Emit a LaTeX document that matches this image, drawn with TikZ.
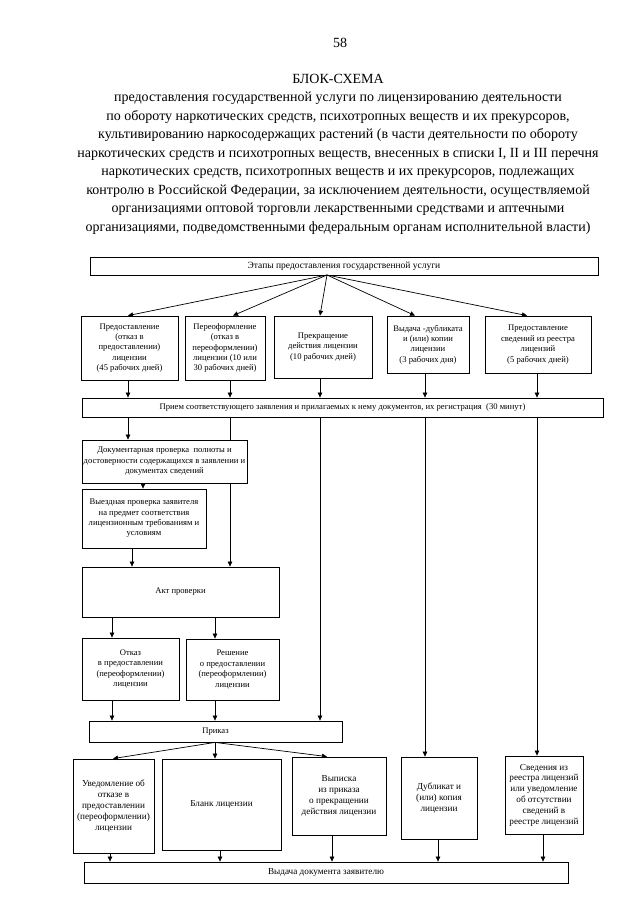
\documentclass[tikz,border=0pt]{standalone}
\usepackage{fontspec}
\setmainfont{Liberation Serif}
\usetikzlibrary{arrows.meta,calc}
\begin{document}
\begin{tikzpicture}[x=1pt,y=-1pt,
  box/.style={draw, line width=0.8pt, fill=white, inner sep=1pt, align=center, font=\fontsize{8.6}{10.4}\selectfont},
  bbox/.style={box, font=\fontsize{9.2}{10.8}\selectfont},
  ttl/.style={font=\fontsize{14}{16}\selectfont, anchor=base, inner sep=0pt},
  arr/.style={-{Triangle[length=5pt,width=4.5pt]}, line width=0.7pt},
  ln/.style={line width=0.7pt}]
\useasboundingbox[fill=white] (0,0) rectangle (640,905);

% title
\node[ttl] (pg) at (340,47) {58};
\node[ttl] (t0) at (338,83) {БЛОК-СХЕМА};
\node[ttl] (t1) at (338,101.5) {предоставления государственной услуги по лицензированию деятельности};
\node[ttl] (t2) at (338,120) {по обороту наркотических средств, психотропных веществ и их прекурсоров,};
\node[ttl] (t3) at (338,138.5) {культивированию наркосодержащих растений (в части деятельности по обороту};
\node[ttl] (t4) at (338,157) {наркотических средств и психотропных веществ, внесенных в списки I, II и III перечня};
\node[ttl] (t5) at (338,175.5) {наркотических средств, психотропных веществ и их прекурсоров, подлежащих};
\node[ttl] (t6) at (338,194) {контролю в Российской Федерации, за исключением деятельности, осуществляемой};
\node[ttl] (t7) at (338,212.5) {организациями оптовой торговли лекарственными средствами и аптечными};
\node[ttl] (t8) at (338,231) {организациями, подведомственными федеральным органам исполнительной власти)};

% column coordinates
\coordinate (fa) at (327,275);
\coordinate (x73) at (113,0);
\coordinate (x110) at (110,0);
\coordinate (x112) at (112,0);
\coordinate (x128) at (128,0);
\coordinate (x132) at (132,0);
\coordinate (x143) at (143,0);
\coordinate (x215) at (215,0);
\coordinate (x220) at (220,0);
\coordinate (x230) at (230,0);
\coordinate (x233) at (233,0);
\coordinate (x320) at (320,0);
\coordinate (x327) at (327,0);
\coordinate (x332) at (332,0);
\coordinate (x415) at (415,0);
\coordinate (x425) at (425,0);
\coordinate (x438) at (438,0);
\coordinate (x527) at (527,0);
\coordinate (x537) at (537,0);
\coordinate (x543) at (543,0);

% boxes
\node[box, minimum width=508pt, minimum height=18pt, font=\fontsize{9.5}{11}\selectfont] (et) at (344,266) {Этапы предоставления государственной услуги};

\node[box, minimum width=97pt, minimum height=64pt] (b1) at (129.5,348) {Предоставление\\(отказ в\\предоставлении)\\лицензии\\(45 рабочих дней)};
\node[box, minimum width=80pt, minimum height=64pt] (b2) at (225,348) {Переоформление\\(отказ в\\переоформлении)\\лицензии (10 или\\30 рабочих дней)};
\node[box, minimum width=98pt, minimum height=62pt] (b3) at (323,347) {Прекращение\\действия лицензии\\(10 рабочих дней)};
\node[box, minimum width=82pt, minimum height=57pt] (b4) at (428,344.5) {Выдача -дубликата\\и (или) копии\\лицензии\\(3 рабочих дня)};
\node[box, minimum width=106pt, minimum height=57pt] (b5) at (538,344.5) {Предоставление\\сведений из реестра\\лицензий\\(5 рабочих дней)};

\node[box, minimum width=521pt, minimum height=19pt] (pr) at (342.5,407.5) {Прием соответствующего заявления и прилагаемых к нему документов, их регистрация\ \ (30 минут)};

\node[box, minimum width=165pt, minimum height=43pt] (dok) at (164.5,461.5) {Документарная проверка\ \ полноты и\\достоверности содержащихся в заявлении и\\документах сведений};
\node[box, minimum width=124pt, minimum height=59pt] (vyez) at (144,518.5) {Выездная проверка заявителя\\на предмет соответствия\\лицензионным требованиям и\\условиям};
\node[box, minimum width=197pt, minimum height=50pt] (akt) at (180.5,592) {Акт проверки};
\node[box, minimum width=97pt, minimum height=62pt] (otk) at (130.5,669) {Отказ\\в предоставлении\\(переоформлении)\\лицензии};
\node[box, minimum width=93pt, minimum height=61pt] (resh) at (232.5,669.5) {Решение\\о предоставлении\\(переоформлении)\\лицензии};
\node[box, minimum width=253pt, minimum height=21pt] (prik) at (215.5,731.5) {Приказ};

\node[bbox, minimum width=81pt, minimum height=94pt] (uv) at (113.5,806) {Уведомление об\\отказе в\\предоставлении\\(переоформлении)\\лицензии};
\node[bbox, minimum width=119pt, minimum height=91pt] (bl) at (221.5,804.5) {Бланк лицензии};
\node[bbox, minimum width=94pt, minimum height=78pt] (vyp) at (339,796) {Выписка\\из приказа\\о прекращении\\действия лицензии};
\node[bbox, minimum width=76pt, minimum height=82pt] (dub) at (439,798) {Дубликат и\\(или) копия\\лицензии};
\node[bbox, minimum width=78pt, minimum height=78pt] (sv) at (544,795) {Сведения из\\реестра лицензий\\или уведомление\\об отсутствии\\сведений в\\реестре лицензий};
\node[bbox, minimum width=484pt, minimum height=21pt] (vyd) at (326,872.5) {Выдача документа заявителю};

% fan from stages
\draw[ln] (et.south -| fa) -- (fa);
\draw[arr] (fa) -- (b1.north -| x128);
\draw[arr] (fa) -- (b2.north -| x233);
\draw[arr] (fa) -- (b3.north -| x320);
\draw[arr] (fa) -- (b4.north -| x415);
\draw[arr] (fa) -- (b5.north -| x527);

% boxes to reception
\draw[arr] (b1.south -| x128) -- (pr.north -| x128);
\draw[arr] (b2.south -| x230) -- (pr.north -| x230);
\draw[arr] (b3.south -| x320) -- (pr.north -| x320);
\draw[arr] (b4.south -| x425) -- (pr.north -| x425);
\draw[arr] (b5.south -| x537) -- (pr.north -| x537);

% from reception
\draw[arr] (pr.south -| x128) -- (dok.north -| x128);
\draw[ln] (pr.south -| x230) -- (dok.north -| x230);
\draw[arr] (dok.south -| x230) -- (akt.north -| x230);
\draw[arr] (pr.south -| x320) -- (prik.north -| x320);
\draw[arr] (pr.south -| x425) -- (dub.north -| x425);
\draw[arr] (pr.south -| x537) -- (sv.north -| x537);

\draw[arr] (dok.south -| x143) -- (vyez.north -| x143);
\draw[arr] (vyez.south -| x132) -- (akt.north -| x132);
\draw[arr] (akt.south -| x112) -- (otk.north -| x112);
\draw[arr] (akt.south -| x215) -- (resh.north -| x215);
\draw[arr] (otk.south -| x112) -- (prik.north -| x112);
\draw[arr] (resh.south -| x215) -- (prik.north -| x215);

% fan from order
\draw[arr] (prik.south -| x215) -- (uv.north -| x73);
\draw[arr] (prik.south -| x215) -- (bl.north -| x215);
\draw[arr] (prik.south -| x215) -- (vyp.north -| x327);

% to issue
\draw[arr] (uv.south -| x110) -- (vyd.north -| x110);
\draw[arr] (bl.south -| x220) -- (vyd.north -| x220);
\draw[arr] (vyp.south -| x332) -- (vyd.north -| x332);
\draw[arr] (dub.south -| x438) -- (vyd.north -| x438);
\draw[arr] (sv.south -| x543) -- (vyd.north -| x543);
\end{tikzpicture}
\end{document}
